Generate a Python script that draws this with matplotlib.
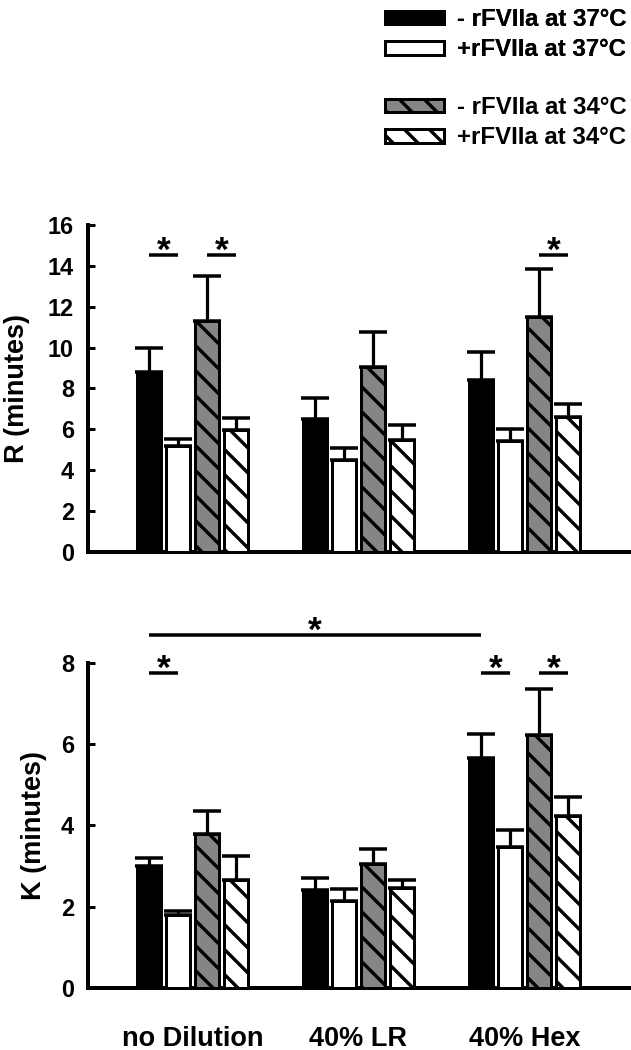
import numpy as np
import matplotlib
matplotlib.use('Agg')
import matplotlib.pyplot as plt

# data
groups = ['no Dilution', '40% LR', '40% Hex']
series = ['- rFVIIa at 37°C', '+rFVIIa at 37°C', '- rFVIIa at 34°C', '+rFVIIa at 34°C']

r_mean = [[8.8, 6.5, 8.4],
          [5.2, 4.5, 5.45],
          [11.3, 9.05, 11.5],
          [5.95, 5.5, 6.6]]
r_err = [[1.2, 1.05, 1.4],
         [0.35, 0.6, 0.55],
         [2.2, 1.7, 2.35],
         [0.6, 0.7, 0.65]]

k_mean = [[3.0, 2.4, 5.65],
          [1.8, 2.15, 3.47],
          [3.8, 3.05, 6.23],
          [2.66, 2.45, 4.24]]
k_err = [[0.19, 0.3, 0.6],
         [0.1, 0.29, 0.42],
         [0.56, 0.37, 1.13],
         [0.6, 0.21, 0.47]]

# significance brackets: (group_a, bar_a, group_b, bar_b, y)
r_sig = [(0, 0, 0, 1, 14.55), (0, 2, 0, 3, 14.55), (2, 2, 2, 3, 14.55)]
k_sig = [(0, 0, 2, 0, 8.69), (0, 0, 0, 1, 7.76), (2, 0, 2, 1, 7.76), (2, 2, 2, 3, 7.76)]

DPI = 75
PX = 72 / DPI  # points per pixel

plt.rcParams['font.family'] = ['Liberation Sans', 'DejaVu Sans']
plt.rcParams['font.weight'] = 'bold'
plt.rcParams['hatch.linewidth'] = 3.4 * PX
plt.rcParams['hatch.color'] = 'black'

faces = ['black', 'white', '#858585', 'white']
hatches = [None, None, '\\', '\\']

step = 0.1747
width = 0.139
gx = np.arange(len(groups))


def xpos(g, i):
    return g + (i - 1.5) * step


fig = plt.figure(figsize=(632 / DPI, 1050 / DPI), dpi=DPI)
ax1 = fig.add_axes([0.13924, 0.474286, 0.86076, 0.311429])
ax2 = fig.add_axes([0.13924, 0.059048, 0.86076, 0.309524])

handles = []
for ax, means, errs, sigs, ymax, ystep, lab, lx in [
        (ax1, r_mean, r_err, r_sig, 16, 2, 'R (minutes)', -0.1066),
        (ax2, k_mean, k_err, k_sig, 8, 2, 'K (minutes)', -0.0753)]:
    for i in range(4):
        xs = xpos(gx, i)
        b = ax.bar(xs, means[i], width, color=faces[i], edgecolor='black',
                   linewidth=3 * PX, hatch=hatches[i], zorder=3, label=series[i])
        ax.errorbar(xs, means[i], yerr=[np.zeros(3), errs[i]], fmt='none',
                    ecolor='black', elinewidth=3.2 * PX, capsize=14 * PX,
                    capthick=3.5 * PX, zorder=2)
        if ax is ax1:
            handles.append(b)
    for ga, ba, gb, bb, y in sigs:
        xa, xb = xpos(ga, ba), xpos(gb, bb)
        ax.plot([xa, xb], [y, y], color='black', lw=3.5 * PX, clip_on=False,
                solid_capstyle='butt')
        ax.annotate('*', ((xa + xb) / 2, y), xytext=(0, -6 * PX),
                    textcoords='offset points', ha='center', va='baseline',
                    fontsize=34, annotation_clip=False)

    ax.set_xlim(-0.6295, 2.6476)
    ax.set_ylim(0, ymax)
    ax.set_yticks(np.arange(0, ymax + 1, ystep))
    ax.spines['top'].set_visible(False)
    ax.spines['right'].set_visible(False)
    ax.spines['left'].set_linewidth(4 * PX)
    ax.spines['bottom'].set_linewidth(4 * PX)
    ax.tick_params(axis='y', direction='in', length=7 * PX, width=3 * PX,
                   pad=14 * PX, labelsize=22.5)
    ax.set_ylabel(lab, fontsize=26, fontweight='bold')
    ax.yaxis.set_label_coords(lx, 0.5)

ax1.set_xticks([])
ax2.set_xticks(gx)
ax2.set_xticklabels(groups, fontsize=26, fontweight='bold')
ax2.tick_params(axis='x', length=0, pad=38 * PX)

leg_kw = dict(frameon=False, loc='upper left', borderpad=0, borderaxespad=0,
              fontsize=23, handlelength=2.45, handleheight=0.52,
              handletextpad=0.55, labelspacing=0.3)
leg1 = fig.legend(handles[:2], series[:2], bbox_to_anchor=(385 / 632, 1 - 8 / 1050), **leg_kw)
fig.add_artist(leg1)
fig.legend(handles[2:], series[2:], bbox_to_anchor=(385 / 632, 1 - 96 / 1050), **leg_kw)

fig.savefig('out.png', dpi=DPI)
